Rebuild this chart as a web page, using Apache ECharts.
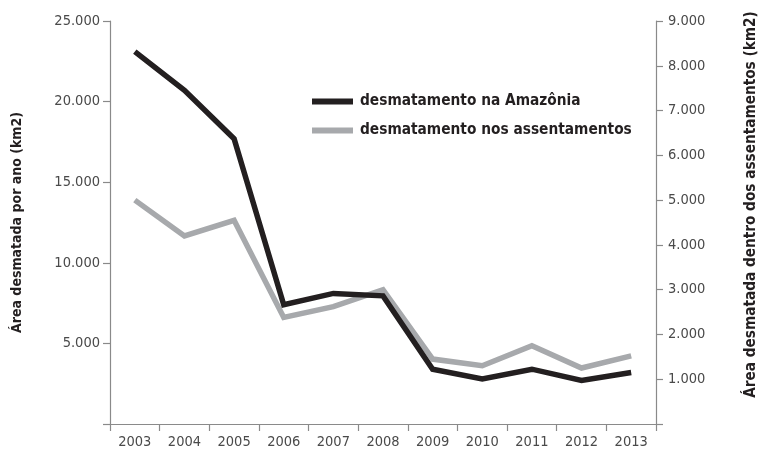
<!DOCTYPE html>
<html>
<head>
<meta charset="utf-8">
<script src="https://cdn.jsdelivr.net/npm/echarts@6/dist/echarts.min.js"></script>
<style>
  html, body { margin: 0; padding: 0; background: #fff; }
  #main { width: 763px; height: 462px; }
</style>
</head>
<body>
<div id="main"></div>
<script>
// anos no eixo x
const years = ['2003', '2004', '2005', '2006', '2007', '2008', '2009', '2010', '2011', '2012', '2013']
// desmatamento na Amazônia (eixo esquerdo, km2)
const amazonia = [23100, 20700, 17700, 7400, 8100, 7950, 3400, 2800, 3400, 2700, 3200]
// desmatamento nos assentamentos (eixo direito, km2)
const assentamentos = [5000, 4200, 4550, 2380, 2620, 3000, 1450, 1300, 1750, 1250, 1520]

const FONT = "'Liberation Sans Narrow', 'DejaVu Sans Condensed', sans-serif"

// 25000 -> 25.000
function fmt(v) {
  if (v === 0) return ''
  return String(v).replace(/\B(?=(\d{3})+(?!\d))/g, '.')
}

const axisLine = { show: true, lineStyle: { color: '#8a8a8a', width: 1.2 } }
const axisTick = { show: true, length: 7, lineStyle: { color: '#8a8a8a', width: 1.2 } }
const axisLabel = { color: '#4a4a4a', fontSize: 14.5, fontFamily: FONT }
const nameStyle = { color: '#231f20', fontWeight: 'bold', fontFamily: FONT }

const chart = echarts.init(document.getElementById('main'))
chart.setOption({
  animation: false,
  grid: { left: 110, right: 107, top: 21, bottom: 38, outerBoundsMode: 'none', containLabel: false },
  legend: {
    orient: 'vertical',
    left: 307,
    top: 89,
    itemWidth: 41,
    itemHeight: 6,
    itemGap: 14,
    icon: 'rect',
    textStyle: { color: '#231f20', fontSize: 15.3, fontWeight: 'bold', fontFamily: FONT, padding: [0, 0, 0, 2] },
    data: ['desmatamento na Amazônia', 'desmatamento nos assentamentos']
  },
  xAxis: {
    type: 'category',
    data: years,
    boundaryGap: true,
    axisLine: axisLine,
    axisTick: axisTick,
    axisLabel: Object.assign({ margin: 11 }, axisLabel)
  },
  yAxis: [
    {
      type: 'value',
      min: 0,
      max: 25000,
      interval: 5000,
      position: 'left',
      name: 'Área desmatada por ano (km2)',
      nameLocation: 'middle',
      nameGap: 86,
      nameTextStyle: Object.assign({ fontSize: 14 }, nameStyle),
      axisLine: axisLine,
      axisTick: axisTick,
      splitLine: { show: false },
      axisLabel: Object.assign({ formatter: fmt, margin: 10 }, axisLabel)
    },
    {
      type: 'value',
      min: 0,
      max: 9000,
      interval: 1000,
      position: 'right',
      name: 'Área desmatada dentro dos assentamentos (km2)',
      nameLocation: 'middle',
      nameGap: 88,
      nameRotate: 90,
      nameTextStyle: Object.assign({ fontSize: 15.2, padding: [0, 0, 0, 36] }, nameStyle),
      axisLine: axisLine,
      axisTick: axisTick,
      splitLine: { show: false },
      axisLabel: Object.assign({ formatter: fmt, margin: 12 }, axisLabel)
    }
  ],
  series: [
    {
      name: 'desmatamento nos assentamentos',
      type: 'line',
      yAxisIndex: 1,
      data: assentamentos,
      symbol: 'none',
      itemStyle: { color: '#a7a9ac' },
      lineStyle: { color: '#a7a9ac', width: 5.5, join: 'miter' }
    },
    {
      name: 'desmatamento na Amazônia',
      type: 'line',
      yAxisIndex: 0,
      data: amazonia,
      symbol: 'none',
      itemStyle: { color: '#231f20' },
      lineStyle: { color: '#231f20', width: 5.5, join: 'miter' }
    }
  ]
})
</script>
</body>
</html>
